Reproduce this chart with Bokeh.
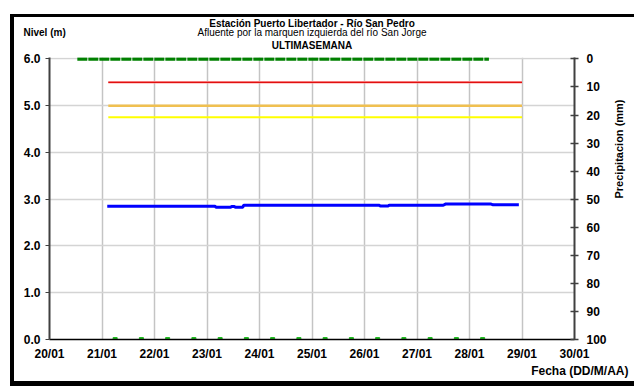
from bokeh.plotting import figure
from bokeh.models import (Range1d, LinearAxis, FixedTicker, Title, Styles)
from bokeh.embed import file_html
from bokeh.resources import INLINE

FONT = "Liberation Sans"

# ---- data (x = day of January) ----
x_ticks = [20, 21, 22, 23, 24, 25, 26, 27, 28, 29, 30]
x_tick_labels = ["20/01", "21/01", "22/01", "23/01", "24/01", "25/01",
                 "26/01", "27/01", "28/01", "29/01", "30/01"]
y_ticks = [0, 1, 2, 3, 4, 5, 6]
precip_ticks = [0, 10, 20, 30, 40, 50, 60, 70, 80, 90, 100]

level_t = [21.10, 23.15, 23.17, 23.45, 23.47, 23.52, 23.54, 23.68, 23.70,
           26.28, 26.30, 26.45, 26.47, 27.50, 27.55, 28.40, 28.45, 28.94]
level_v = [2.85, 2.85, 2.83, 2.83, 2.845, 2.845, 2.83, 2.83, 2.87,
           2.87, 2.855, 2.855, 2.87, 2.87, 2.90, 2.90, 2.88, 2.88]

threshold_t = [21.12, 29.0]
threshold_red = 5.5
threshold_orange = 5.0
threshold_yellow = 4.75

precip_t = [20.53, 28.37]
precip_v = [0, 0]

dots_t = [21.25, 21.75, 22.25, 22.75, 23.25, 23.75, 24.25, 24.75,
          25.25, 25.75, 26.25, 26.75, 27.25, 27.75, 28.25]
dots_v = [0, 0, 0, 0, 0, 0, 0, 0, 0, 0, 0, 0, 0, 0, 0]

W, H = 634, 389
FL, FR, FT, FB = 49, 574, 57, 339   # frame edges in pixels
p = figure(width=W, height=H, output_backend="svg", toolbar_location=None,
           x_range=Range1d(20, 30), y_range=Range1d(0, 6.03),
           min_border_left=FL, min_border_right=W - FR, min_border_top=FT,
           min_border_bottom=H - FB)
p.outline_line_color = None
p.background_fill_color = "white"
p.border_fill_color = None

# outer black frame drawn as the page element's background (behind the transparent border)
p.styles = Styles(
    background_color="white",
    background_image="linear-gradient(black,black), linear-gradient(black,black), linear-gradient(black,black)",
    background_size="4px 372px, 630px 3px, 630px 5px",
    background_position="10px 14px, 10px 14px, 10px 381px",
    background_repeat="no-repeat",
)

p.extra_y_ranges = {"precip": Range1d(start=100, end=-0.5)}

def add_title(text, bold, standoff, align="center", offset=0, place="above", size="10px"):
    t = Title(text=text, align=align, offset=offset, text_font=FONT,
              text_font_size=size, text_font_style="bold" if bold else "normal",
              text_color="black")
    try:
        t.standoff = standoff
    except Exception:
        t.standoff = 0
    p.add_layout(t, place)

# stacked outward from the plot frame
add_title("ULTIMASEMANA", True, 13)
add_title("Nivel (m)", True, -13.5, align="left", offset=-26)
add_title("Afluente por la marquen izquierda del río San Jorge", False, -13.5)
add_title("Estación Puerto Libertador - Río San Pedro", True, 6)
add_title("Fecha (DD/M/AA)", True, -4, align="right", offset=-54, place="below", size="12px")

# grids
p.xgrid.ticker = FixedTicker(ticks=x_ticks)
p.ygrid.ticker = FixedTicker(ticks=y_ticks)
p.xgrid.grid_line_color = "#c4c4c4"
p.ygrid.grid_line_color = "#d4d4d4"
p.xgrid.grid_line_width = 1.5
p.ygrid.grid_line_width = 1.5

# bottom axis
xa = p.xaxis[0]
xa.ticker = FixedTicker(ticks=x_ticks)
xa.major_label_overrides = {t: l for t, l in zip(x_ticks, x_tick_labels)}
xa.axis_line_color = "black"
xa.axis_line_width = 1.5
xa.major_tick_out = 0
xa.major_tick_in = 0
xa.minor_tick_out = 0
xa.minor_tick_in = 0
xa.major_label_standoff = 7
xa.major_label_text_font = FONT
xa.major_label_text_font_style = "bold"
xa.major_label_text_font_size = "12px"
xa.major_label_text_color = "black"

# left axis
ya = p.yaxis[0]
ya.ticker = FixedTicker(ticks=y_ticks)
ya.major_label_overrides = {t: f"{t:.1f}" for t in y_ticks}
ya.axis_line_color = "#404040"
ya.axis_line_width = 2
ya.major_tick_out = 4
ya.major_tick_in = 0
ya.major_tick_line_color = "#404040"
ya.minor_tick_out = 0
ya.minor_tick_in = 0
ya.major_label_standoff = 5
ya.major_label_text_font = FONT
ya.major_label_text_font_style = "bold"
ya.major_label_text_font_size = "12px"
ya.major_label_text_color = "black"

# right axis (precipitation)
ra = LinearAxis(y_range_name="precip", ticker=FixedTicker(ticks=precip_ticks))
ra.axis_line_color = "#404040"
ra.axis_line_width = 2
ra.major_tick_out = 4
ra.major_tick_in = 4
ra.major_tick_line_color = "#404040"
ra.major_tick_line_width = 1.5
ra.minor_tick_out = 0
ra.minor_tick_in = 0
ra.major_label_standoff = 8
ra.major_label_text_font = FONT
ra.major_label_text_font_style = "bold"
ra.major_label_text_font_size = "12px"
ra.major_label_text_color = "black"
ra.axis_label = "Precipitacion (mm)"
ra.axis_label_orientation = 1.5708
ra.axis_label_standoff = 9
ra.axis_label_text_font = FONT
ra.axis_label_text_font_style = "bold"
ra.axis_label_text_font_size = "11px"
ra.axis_label_text_color = "black"
p.add_layout(ra, "right")

# threshold lines
p.line(threshold_t, [threshold_red] * 2, line_color="#ff9a9a", line_width=2.5)
p.line(threshold_t, [threshold_red] * 2, line_color="#e01010", line_width=1.2)
p.line(threshold_t, [threshold_orange] * 2, line_color="#f0c050", line_width=2.5)
p.line(threshold_t, [threshold_yellow] * 2, line_color="#ffff00", line_width=2)

# precipitation (zero) at top
p.line(precip_t, precip_v, y_range_name="precip", line_color="#008000",
       line_width=3.5, line_dash="10 1")

# level
p.line(level_t, level_v, line_color="#0000ff", line_width=3)

# green dots on the zero line
p.scatter(dots_t, dots_v, marker="square", size=4, color="#22bb22")

open("out.html", "w").write(file_html(p, INLINE))
